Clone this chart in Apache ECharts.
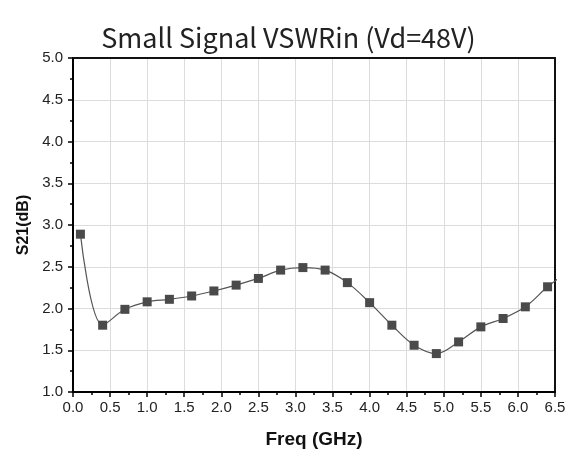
<!DOCTYPE html>
<html>
<head>
<meta charset="utf-8">
<script src="https://cdn.jsdelivr.net/npm/echarts@6/dist/echarts.min.js"></script>
<style>
  html, body { margin: 0; padding: 0; background: #fff; }
  #main { width: 577px; height: 454px; }
</style>
</head>
<body>
<div id="main"></div>
<script>
// 频率 (GHz) 和 测量值
var freq = [0.1, 0.4, 0.7, 1.0, 1.3, 1.6, 1.9, 2.2, 2.5, 2.8, 3.1, 3.4, 3.7, 4.0,
            4.3, 4.6, 4.9, 5.2, 5.5, 5.8, 6.1, 6.4, 6.7];
var vswr = [2.89, 1.80, 1.99, 2.08, 2.11, 2.15, 2.21, 2.28, 2.36, 2.46, 2.49, 2.46, 2.31, 2.07,
            1.80, 1.56, 1.46, 1.60, 1.78, 1.88, 2.02, 2.26, 2.46];

var chartTitle = "Small Signal VSWRin (Vd=48V)";
var xName = "Freq (GHz)";
var yName = "S21(dB)";

var myChart = echarts.init(document.getElementById("main"));

var points = [];
for (var i = 0; i < freq.length; i++) {
  points.push([freq[i], vswr[i]]);
}

var tickFont = { color: "#222", fontSize: 15, fontFamily: "Liberation Sans, Arial" };
var fmt = function (v) { return v.toFixed(1); };

// 上边框和右边框 (只画线)
var frameAxis = {
  type: "value",
  axisLine: { show: true, onZero: false, lineStyle: { color: "#111", width: 2 } },
  axisTick: { show: false },
  axisLabel: { show: false },
  splitLine: { show: false },
};

var option = {
  animation: false,
  backgroundColor: "#fff",
  title: {
    text: chartTitle,
    left: "center",
    top: 19,
    textStyle: {
      color: "#222",
      fontSize: 27,
      fontWeight: "normal",
      fontFamily: "Noto Sans CJK SC",
    },
  },
  grid: {
    left: 73,
    right: 22,
    top: 58,
    bottom: 55,
  },
  xAxis: [
    {
      type: "value",
      min: 0,
      max: 6.5,
      interval: 0.5,
      name: xName,
      nameLocation: "middle",
      nameGap: 38,
      nameTextStyle: { color: "#111", fontSize: 19, fontWeight: "bold", fontFamily: "Liberation Sans, Arial" },
      axisLine: { show: true, onZero: false, lineStyle: { color: "#000", width: 2 } },
      axisTick: { show: true, length: 5, lineStyle: { color: "#000", width: 1.5 } },
      minorTick: { show: true, splitNumber: 2, length: 3, lineStyle: { color: "#000", width: 1.5 } },
      axisLabel: Object.assign({ margin: 8, formatter: fmt }, tickFont),
      splitLine: { show: true, lineStyle: { color: "#dcdcdc", width: 1 } },
    },
    Object.assign({ position: "top", min: 0, max: 6.5 }, frameAxis),
  ],
  yAxis: [
    {
      type: "value",
      min: 1,
      max: 5,
      interval: 0.5,
      name: yName,
      nameLocation: "middle",
      nameGap: 39,
      nameTextStyle: { color: "#111", fontSize: 16, fontWeight: "bold", fontFamily: "Liberation Sans, Arial" },
      axisLine: { show: true, onZero: false, lineStyle: { color: "#000", width: 2 } },
      axisTick: { show: true, length: 5, lineStyle: { color: "#000", width: 1.5 } },
      minorTick: { show: true, splitNumber: 2, length: 3, lineStyle: { color: "#000", width: 1.5 } },
      axisLabel: Object.assign({ margin: 10, formatter: fmt }, tickFont),
      splitLine: { show: true, lineStyle: { color: "#dcdcdc", width: 1 } },
    },
    Object.assign({ position: "right", min: 1, max: 5 }, frameAxis),
  ],
  series: [
    {
      type: "line",
      data: points,
      smooth: 0.35,
      clip: true,
      symbol: "rect",
      symbolSize: 9,
      itemStyle: { color: "#4a4a4a" },
      lineStyle: { color: "#555", width: 1.2 },
    },
  ],
};

myChart.setOption(option);
</script>
</body>
</html>
